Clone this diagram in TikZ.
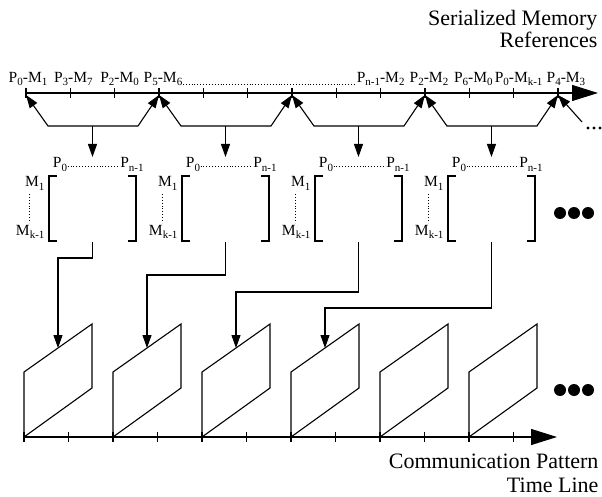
\documentclass[tikz,border=0pt]{standalone}
\usepackage{fontspec}
\setmainfont{Liberation Serif}
\usetikzlibrary{arrows.meta}
\newcommand{\lo}[1]{\raisebox{-3pt}{\fontsize{11}{11}\selectfont #1}}
\begin{document}
\begin{tikzpicture}[x=1pt,y=-1pt,line width=1.1pt,
  lab/.style={font=\fontsize{15.5}{16}\selectfont,inner sep=0pt},
  ttl/.style={font=\fontsize{22}{24}\selectfont,inner sep=0pt,anchor=base east},
  bigtip/.style={-{Triangle[length=26pt,width=16pt]}},
  onetip/.style={-{Triangle[length=13pt,width=9pt]}},
  twotip/.style={{Triangle[length=13pt,width=9pt]}-{Triangle[length=13pt,width=9pt]}},
  dotline/.style={dotted,line width=0.9pt},
]
\useasboundingbox (0,0) rectangle (602,497);

% titles
\node[ttl] (t1) at (598,26) {Serialized Memory};
\node[ttl] (t2) at (598,48) {References};
\node[ttl] (b1) at (599,468) {Communication Pattern};
\node[ttl] (b2) at (599,492) {Time Line};

% top time line
\foreach \i in {0,...,12} {
  \coordinate (t\i) at ({26+44.33*\i},93);
  \draw ([yshift=5pt]t\i) -- ([yshift=-5pt]t\i);
}
\coordinate (tend) at (598,93);
\draw[bigtip] (t0) -- (tend);

% top labels
\foreach \i/\dx/\txt in {0/2/{P\lo{0}-M\lo{1}},1/3/{P\lo{3}-M\lo{7}},2/5/{P\lo{2}-M\lo{0}},3/4/{P\lo{5}-M\lo{6}},
  8/0/{P\lo{n-1}-M\lo{2}},9/4/{P\lo{2}-M\lo{2}},10/4/{P\lo{6}-M\lo{0}},11/5/{P\lo{0}-M\lo{k-1}},12/8/{P\lo{4}-M\lo{3}}} {
  \node[lab,anchor=base] (l\i) at ([xshift=\dx pt,yshift=10pt]t\i) {\txt};
}
\draw[dotline] ([yshift=-1pt]l3.base east) -- ([yshift=-1pt]l8.base west);

% selection brackets with arrows
\foreach \k in {0,...,3} {
  \pgfmathtruncatemacro\a{3*\k}
  \pgfmathtruncatemacro\b{3*\k+3}
  \pgfmathsetmacro\xa{26+44.33*\a}
  \pgfmathsetmacro\xb{26+44.33*\b}
  \pgfmathsetmacro\xm{(\xa+\xb)/2}
  \coordinate (pa\k) at ({\xa+22},126);
  \coordinate (pb\k) at ({\xb-21},126);
  \coordinate (pm\k) at (\xm,126);
  \draw[twotip] ([yshift=-2pt]t\a) -- (pa\k) -- (pb\k) -- ([yshift=-2pt]t\b);
  % matrix
  \pgfmathsetmacro\L{\xm-43.5}
  \pgfmathsetmacro\R{\xm+43.5}
  \coordinate (mt\k) at (\xm,157);
  \coordinate (mb\k) at (\xm,242);
  \draw[onetip] (pm\k) -- (mt\k);
  \draw ({\L+8},176) -- (\L,176) -- (\L,241) -- ({\L+8},241);
  \draw ({\R-8},176) -- (\R,176) -- (\R,241) -- ({\R-8},241);
  \node[lab,anchor=base] (p0\k) at ({\L+11},168) {P\lo{0}};
  \node[lab,anchor=base] (pn\k) at ({\R-4},168) {P\lo{n-1}};
  \draw[dotline] ([yshift=2pt]p0\k.base east) -- ([yshift=2pt]pn\k.base west);
  \node[lab,anchor=base east] (m1\k) at ({\L-4},187) {M\lo{1}};
  \node[lab,anchor=base east] (mk\k) at ({\L-4},235) {M\lo{k-1}};
  \draw[dotline] ({\L-20},194) -- ({\L-20},223);
}
\coordinate (pe) at (582,122);
\draw[onetip] (pe) -- ([yshift=-2pt]t12);
\foreach \x in {588,594,600} \fill (\x,128) circle (1.6pt);

% matrix dots
\foreach \x in {560,574,588} \fill (\x,213) circle (6pt);

% bottom time line
\foreach \i in {0,...,11} {
  \coordinate (b\i) at ({24+44.5*\i},437);
  \draw ([yshift=5pt]b\i) -- ([yshift=-5pt]b\i);
}
\coordinate (bend) at (557,437);
\draw[bigtip] (b0) -- (bend);

% parallelograms
\foreach \k in {0,...,5} {
  \pgfmathsetmacro\Q{24+89*\k}
  \draw ({\Q},437) -- ({\Q+68},388) -- ({\Q+68},324) -- ({\Q},372) -- cycle;
  \coordinate (q\k) at ({\Q+34},348);
}
\foreach \x in {560,574,588} \fill (\x,390) circle (6pt);

% connectors matrix -> communication pattern
\foreach \k/\yy in {0/258,1/275,2/292,3/308} {
  \draw[onetip] (mb\k) -- (mb\k |- 0,\yy) -- (q\k |- 0,\yy) -- (q\k);
}
\end{tikzpicture}
\end{document}
